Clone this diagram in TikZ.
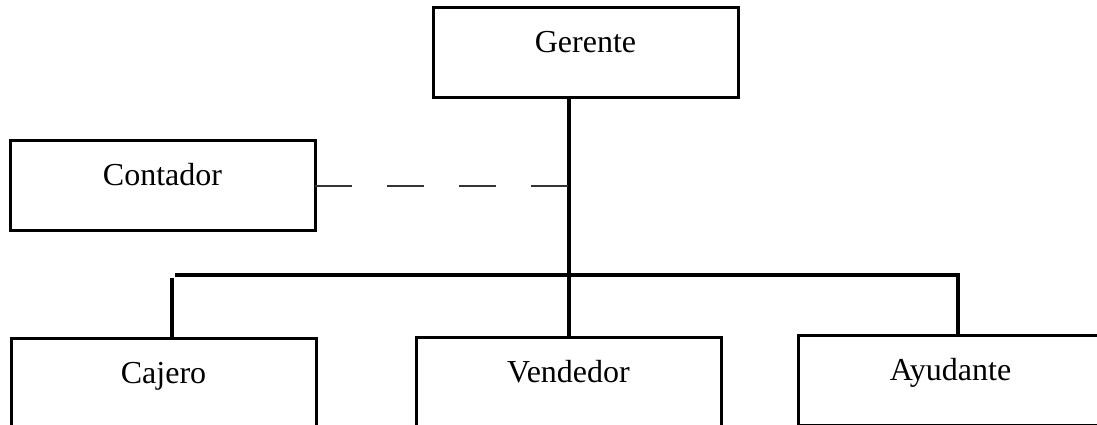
\documentclass[tikz,border=0pt]{standalone}
\usepackage{fontspec}
\setmainfont{Liberation Serif}
\begin{document}
\begin{tikzpicture}[
  x=0.75pt, y=-0.75pt,
  orgbox/.style={draw=black, line width=2.25pt, rectangle, inner sep=0pt, outer sep=0pt,
    minimum width=228.75pt, minimum height=67.5pt,
    text height=33.75pt, text depth=33.75pt,
    font=\fontsize{24pt}{28pt}\selectfont},
  link/.style={draw=black, line width=3pt},
  advice/.style={draw=black!80, line width=1.5pt, dash pattern=on 27.75pt off 26.25pt}
]
\useasboundingbox (0,0) rectangle (1097,425);

% boxes
\node[orgbox] (ger) at (585.5,52)  {Gerente};
\node[orgbox] (con) at (162.5,185.5) {Contador};
\node[orgbox] (caj) at (163.5,383) {Cajero};
\node[orgbox] (ven) at (568.5,382) {Vendedor};
\node[orgbox] (ayu) at (950.5,380) {Ayudante};

% branch points
\coordinate (busL)  at (175,275);
\coordinate (busR)  at (960,275);
\coordinate (dropL) at (172,278);
\coordinate (dropR) at (958,275);

% trunk and bus
\draw[link] (ven.north |- ger.south) -- (ven.north);
\draw[link] (busL) -- (busR);
\draw[link] (dropL) -- (dropL |- caj.north);
\draw[link] (dropR) -- (dropR |- ayu.north);

% staff line
\draw[advice] (con.east) -- (con.east -| ven.north);
\end{tikzpicture}
\end{document}
